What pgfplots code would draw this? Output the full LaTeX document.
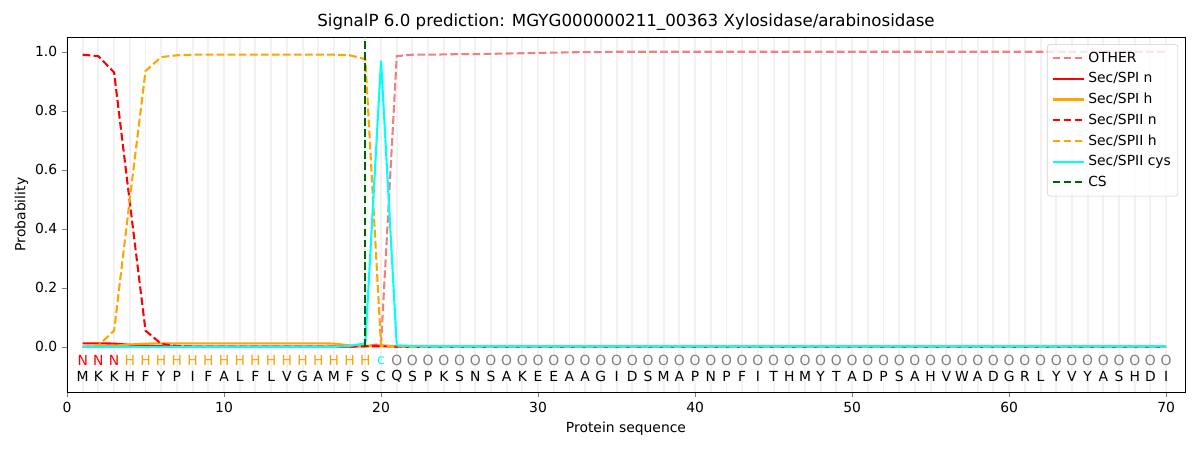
\documentclass[border=0pt]{standalone}
\usepackage{fontspec}
\setmainfont{DejaVu Sans}
\usepackage{pgfplots}
\usepackage{pgfplotstable}
\pgfplotsset{compat=1.18}
\definecolor{lcoral}{HTML}{F08080}
\definecolor{mplred}{HTML}{FF0000}
\definecolor{mplorange}{HTML}{FFA500}
\definecolor{mplcyan}{HTML}{00FFFF}
\definecolor{dgreen}{HTML}{006400}
\definecolor{gridgray}{HTML}{F2F2F2}
\definecolor{lgray}{HTML}{808080}
\tikzset{seq/.style={font=\fontsize{10}{12}\selectfont, inner sep=0pt}}
\pgfplotstableread{
x other spin spih spiin spiih cys
1 0.000 0.012 0.000 0.990 0.000 0.000
2 0.000 0.012 0.002 0.985 0.005 0.000
3 0.000 0.011 0.004 0.930 0.055 0.000
4 0.000 0.007 0.008 0.490 0.500 0.000
5 0.000 0.004 0.011 0.055 0.935 0.000
6 0.000 0.002 0.012 0.010 0.982 0.000
7 0.000 0.001 0.012 0.003 0.988 0.000
8 0.000 0.001 0.012 0.001 0.990 0.000
9 0.000 0.001 0.012 0.001 0.990 0.000
10 0.000 0.001 0.012 0.001 0.990 0.000
11 0.000 0.001 0.012 0.001 0.990 0.000
12 0.000 0.001 0.012 0.001 0.990 0.000
13 0.000 0.001 0.012 0.001 0.990 0.000
14 0.000 0.001 0.012 0.001 0.990 0.000
15 0.000 0.001 0.012 0.001 0.990 0.000
16 0.000 0.001 0.012 0.001 0.990 0.000
17 0.000 0.001 0.011 0.001 0.990 0.000
18 0.001 0.001 0.005 0.001 0.988 0.003
19 0.002 0.003 0.002 0.002 0.975 0.012
20 0.010 0.004 0.004 0.002 0.005 0.970
21 0.985 0.001 0.002 0.001 0.002 0.005
22 0.990 0.000 0.000 0.000 0.000 0.003
23 0.990 0.000 0.000 0.000 0.000 0.002
24 0.991 0.000 0.000 0.000 0.000 0.002
25 0.992 0.000 0.000 0.000 0.000 0.002
26 0.992 0.000 0.000 0.000 0.000 0.002
27 0.993 0.000 0.000 0.000 0.000 0.002
28 0.994 0.000 0.000 0.000 0.000 0.002
29 0.995 0.000 0.000 0.000 0.000 0.002
30 0.996 0.000 0.000 0.000 0.000 0.002
31 0.997 0.000 0.000 0.000 0.000 0.002
32 0.998 0.000 0.000 0.000 0.000 0.002
33 0.999 0.000 0.000 0.000 0.000 0.002
34 0.999 0.000 0.000 0.000 0.000 0.002
35 1.000 0.000 0.000 0.000 0.000 0.002
36 1.000 0.000 0.000 0.000 0.000 0.002
37 1.000 0.000 0.000 0.000 0.000 0.002
38 1.000 0.000 0.000 0.000 0.000 0.002
39 1.000 0.000 0.000 0.000 0.000 0.002
40 1.000 0.000 0.000 0.000 0.000 0.002
41 1.000 0.000 0.000 0.000 0.000 0.002
42 1.000 0.000 0.000 0.000 0.000 0.002
43 1.000 0.000 0.000 0.000 0.000 0.002
44 1.000 0.000 0.000 0.000 0.000 0.002
45 1.000 0.000 0.000 0.000 0.000 0.002
46 1.000 0.000 0.000 0.000 0.000 0.002
47 1.000 0.000 0.000 0.000 0.000 0.002
48 1.000 0.000 0.000 0.000 0.000 0.002
49 1.000 0.000 0.000 0.000 0.000 0.002
50 1.000 0.000 0.000 0.000 0.000 0.002
51 1.000 0.000 0.000 0.000 0.000 0.002
52 1.000 0.000 0.000 0.000 0.000 0.002
53 1.000 0.000 0.000 0.000 0.000 0.002
54 1.000 0.000 0.000 0.000 0.000 0.002
55 1.000 0.000 0.000 0.000 0.000 0.002
56 1.000 0.000 0.000 0.000 0.000 0.002
57 1.000 0.000 0.000 0.000 0.000 0.002
58 1.000 0.000 0.000 0.000 0.000 0.002
59 1.000 0.000 0.000 0.000 0.000 0.002
60 1.000 0.000 0.000 0.000 0.000 0.002
61 1.000 0.000 0.000 0.000 0.000 0.002
62 1.000 0.000 0.000 0.000 0.000 0.002
63 1.000 0.000 0.000 0.000 0.000 0.002
64 1.000 0.000 0.000 0.000 0.000 0.002
65 1.000 0.000 0.000 0.000 0.000 0.002
66 1.000 0.000 0.000 0.000 0.000 0.002
67 1.000 0.000 0.000 0.000 0.000 0.002
68 1.000 0.000 0.000 0.000 0.000 0.002
69 1.000 0.000 0.000 0.000 0.000 0.002
70 1.000 0.000 0.000 0.000 0.000 0.002
}\sigdata
\begin{document}
\begin{tikzpicture}
\useasboundingbox (0,0) rectangle (864pt,324pt);
\begin{axis}[
  at={(48.24pt,41.76pt)}, anchor=south west,
  scale only axis, width=804.96pt, height=255.6pt,
  xmin=0, xmax=71.2, ymin=-0.153, ymax=1.05,
  xtick={0,10,...,70}, ytick={0,0.2,...,1.0},
  minor x tick num=9,
  xmajorgrids, xminorgrids,
  major grid style={gridgray, line width=1.4pt},
  minor grid style={gridgray, line width=1.4pt},
  minor tick length=0pt,
  tick align=outside, tick pos=left,
  major tick length=3.5pt,
  yticklabel style={/pgf/number format/.cd, fixed, fixed zerofill, precision=1},
  /pgf/number format/assume math mode=true,
  ticklabel style={font=\fontsize{10}{12}\selectfont},
  title={SignalP 6.0 prediction: MGYG000000211\_00363 Xylosidase/arabinosidase},
  title style={font=\fontsize{12}{14}\selectfont, yshift=-5pt},
  xlabel={Protein sequence}, ylabel={Probability},
  ylabel style={yshift=-2pt},
  label style={font=\fontsize{10}{12}\selectfont},
  every axis plot/.append style={line width=1.5pt},
  legend cell align=left,
  legend style={at={(0.9938,0.980)}, anchor=north east, font=\fontsize{10}{12}\selectfont,
    draw=lightgray!80, rounded corners=2pt, fill=white, fill opacity=0.8, text opacity=1,
    row sep=1.9pt, inner xsep=3pt, inner ysep=3.5pt},
  legend image code/.code={\draw[#1] (0pt,0pt) -- (21pt,0pt); \path (0pt,0pt) -- (23pt,0pt);},
]
\addplot[lcoral, dash pattern=on 5.55pt off 2.4pt] table[x=x,y=other] {\sigdata};
\addlegendentry{OTHER}
\addplot[mplred] table[x=x,y=spin] {\sigdata};
\addlegendentry{Sec/SPI n}
\addplot[mplorange] table[x=x,y=spih] {\sigdata};
\addlegendentry{Sec/SPI h}
\addplot[mplred, dash pattern=on 5.55pt off 2.4pt] table[x=x,y=spiin] {\sigdata};
\addlegendentry{Sec/SPII n}
\addplot[mplorange, dash pattern=on 5.55pt off 2.4pt] table[x=x,y=spiih] {\sigdata};
\addlegendentry{Sec/SPII h}
\addplot[mplcyan] table[x=x,y=cys] {\sigdata};
\addlegendentry{Sec/SPII cys}
\addplot[dgreen, dash pattern=on 5.55pt off 2.4pt] coordinates {(19,0) (19,1.05)};
\addlegendentry{CS}
\foreach \c [count=\i] in {M,K,K,H,F,Y,P,I,F,A,L,F,L,V,G,A,M,F,S,C,Q,S,P,K,S,N,S,A,K,E,E,A,A,G,I,D,S,M,A,P,N,P,F,I,T,H,M,Y,T,A,D,P,S,A,H,V,W,A,D,G,R,L,Y,V,Y,A,S,H,D,I} {
  \edef\tmp{\noexpand\node[seq] at (axis cs:\i,-0.10) {\c};}
  \tmp
}
\foreach \i in {1,2,3} {
  \edef\tmp{\noexpand\node[seq, text=mplred] at (axis cs:\i,-0.047) {N};}
  \tmp
}
\foreach \i in {4,...,19} {
  \edef\tmp{\noexpand\node[seq, text=mplorange] at (axis cs:\i,-0.047) {H};}
  \tmp
}
\node[seq, text=mplcyan] at (axis cs:20,-0.047) {c};
\foreach \i in {21,...,70} {
  \edef\tmp{\noexpand\node[seq, text=lgray] at (axis cs:\i,-0.047) {O};}
  \tmp
}
\end{axis}
\end{tikzpicture}
\end{document}
